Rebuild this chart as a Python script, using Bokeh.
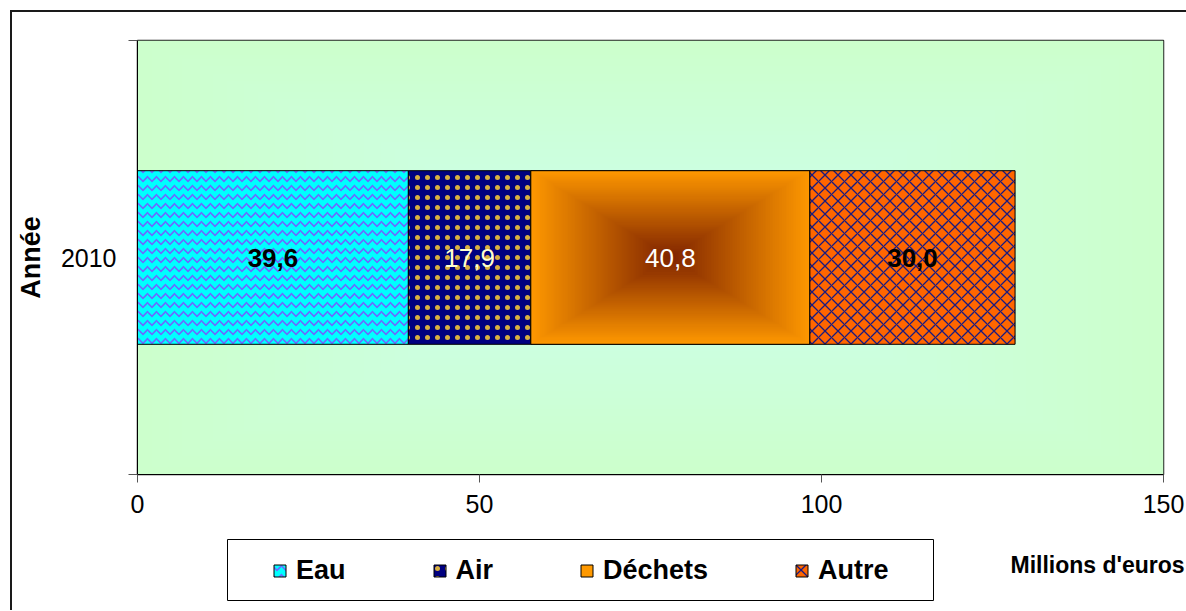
import numpy as np
from bokeh.plotting import figure
from bokeh.layouts import column
from bokeh.models import (ColumnDataSource, FixedTicker, Label, Legend, LegendItem,
                          BoxAnnotation, Range1d)
from bokeh.core.properties import value
from bokeh.embed import file_html
from bokeh.resources import INLINE

# ---- data -------------------------------------------------------------
years = ["2010"]
categories = ["Eau", "Air", "Déchets", "Autre"]
amounts = [39.6, 17.9, 40.8, 30.0]
x_ticks = [0, 50, 100, 150]
x_max = 150
axis_title_y = "Année"
axis_title_x = "Millions d'euros"

FONT = "Liberation Sans"
ORIGIN = 12          # page offset of the chart box (margin + border)
W = 1174             # inner width of the chart box
H_TOP, H_BOTTOM = 523, 75

# ---- main chart -------------------------------------------------------
p = figure(width=W, height=H_TOP, output_backend="svg", toolbar_location=None,
           x_range=Range1d(0, x_max), y_range=Range1d(0, len(years)),
           min_border_left=125, min_border_right=23, min_border_top=28,
           min_border_bottom=61, background_fill_color="#ccffcc",
           border_fill_color="white")
p.xgrid.visible = False
p.ygrid.visible = False
p.outline_line_color = "#222222"
p.outline_line_width = 1.5

# plot-area background: rectangular gradient radiating from the centre
ny, nx = 120, 300
gy, gx = np.mgrid[0:ny, 0:nx]
dx = np.abs((gx + 0.5) / nx - 0.5) * 2
dy = np.abs((gy + 0.5) / ny - 0.5) * 2
t = np.clip(np.maximum(dx, dy), 0, 1)
c_mid = np.array([204, 255, 238])
c_edge = np.array([204, 255, 204])
rgb = c_mid[None, None, :] * (1 - t[..., None]) + c_edge[None, None, :] * t[..., None]
img = np.empty((ny, nx), dtype=np.uint32)
view = img.view(dtype=np.uint8).reshape((ny, nx, 4))
view[..., :3] = rgb.astype(np.uint8)
view[..., 3] = 255
p.image_rgba(image=[img], x=0, y=0, dw=x_max, dh=len(years))

# stacked bar
y_pos = [i + 0.5 for i in range(len(years))]
bar_h = 0.4
starts = np.concatenate([[0], np.cumsum(amounts)[:-1]])
ends = starts + np.array(amounts)

styles = [
    dict(fill_color="#00ffff", hatch_pattern="horizontal_wave", hatch_color="#6a6aff",
         hatch_scale=9, hatch_weight=1.6),
    dict(fill_color="#000080", hatch_pattern="dot", hatch_color="#d8b040",
         hatch_scale=10, hatch_weight=0.8),
    dict(fill_color="#ff9900"),
    dict(fill_color="#ff6600", hatch_pattern="diagonal_cross", hatch_color="#1a1a80",
         hatch_scale=13, hatch_weight=1.3),
]

sources = []
for i, cat in enumerate(categories):
    src = ColumnDataSource(dict(y=y_pos, left=[starts[i]], right=[ends[i]]))
    sources.append(src)
    p.hbar(y="y", left="left", right="right", height=bar_h, source=src,
           line_color="black", line_width=1, **styles[i])
    if cat == "Déchets":
        # "from centre" fill: dark brown core fading to orange at the edges
        my, mx = 80, 160
        qy, qx = np.mgrid[0:my, 0:mx]
        ddx = np.abs((qx + 0.5) / mx - 0.5) * 2
        ddy = np.abs((qy + 0.5) / my - 0.5) * 2
        tt = np.clip(np.maximum(ddx, ddy), 0, 1)
        core = np.array([128, 36, 0])
        edge = np.array([255, 153, 0])
        cc = core[None, None, :] * (1 - tt[..., None]) + edge[None, None, :] * tt[..., None]
        im2 = np.empty((my, mx), dtype=np.uint32)
        v2 = im2.view(dtype=np.uint8).reshape((my, mx, 4))
        v2[..., :3] = cc.astype(np.uint8)
        v2[..., 3] = 255
        p.image_rgba(image=[im2], x=starts[i], y=y_pos[0] - bar_h / 2,
                     dw=amounts[i], dh=bar_h)
        p.hbar(y="y", left="left", right="right", height=bar_h, source=src,
               fill_color=None, line_color="black", line_width=1)

# value labels
label_colors = ["black", "#ffffcc", "white", "black"]
label_styles = ["bold", "normal", "normal", "bold"]
for i in range(len(categories)):
    p.text(x=[starts[i] + amounts[i] / 2], y=[y_pos[0]],
           text=[f"{amounts[i]:.1f}".replace(".", ",")],
           text_font=value(FONT), text_font_size="26px",
           text_font_style=label_styles[i], text_color=label_colors[i],
           text_align="center", text_baseline="middle")

# axes
xa = p.xaxis[0]
xa.ticker = FixedTicker(ticks=x_ticks, minor_ticks=[])
xa.major_tick_out = 8
xa.major_tick_in = 0
xa.major_tick_line_color = "#555555"
xa.axis_line_color = "black"
xa.major_label_text_font = FONT
xa.major_label_text_font_size = "25px"
xa.major_label_text_color = "black"
xa.major_label_standoff = 12

ya = p.yaxis[0]
ya.ticker = FixedTicker(ticks=y_pos, minor_ticks=[float(i) for i in range(len(years) + 1)])
ya.major_label_overrides = {y_pos[i]: years[i] for i in range(len(years))}
ya.major_tick_line_color = None
ya.major_tick_out = 8
ya.minor_tick_out = 9
ya.minor_tick_in = 0
ya.minor_tick_line_color = "#555555"
ya.axis_line_color = "black"
ya.major_label_text_font = FONT
ya.major_label_text_font_size = "25px"
ya.major_label_text_color = "black"
ya.major_label_standoff = 12
ya.axis_label = axis_title_y
ya.axis_label_text_font = FONT
ya.axis_label_text_font_size = "27px"
ya.axis_label_text_font_style = "bold"
ya.axis_label_text_color = "black"
ya.axis_label_standoff = 12

# ---- legend strip (pixel coordinates) ---------------------------------
q = figure(width=W, height=H_BOTTOM, output_backend="svg", toolbar_location=None,
           x_range=Range1d(0, W), y_range=Range1d(0, H_BOTTOM),
           x_axis_location=None, y_axis_location=None, min_border=0,
           background_fill_color="white", border_fill_color="white")
q.grid.visible = False
q.outline_line_color = None

# keep each figure's frame where its own borders put it
for fig in (p, q):
    if "frame_align" in fig.properties():
        fig.frame_align = False


def cx(x):
    return x - ORIGIN


def cy(y):
    return ORIGIN + H_TOP + H_BOTTOM - y


# legend keys: same series and styles, not drawn in the strip itself
key_renderers = []
for i, cat in enumerate(categories):
    r = q.hbar(y="y", left="left", right="right", height=bar_h, source=sources[i],
               line_color="black", line_width=1, visible=False, **styles[i])
    key_renderers.append(r)

legend = Legend(items=[LegendItem(label=c, renderers=[key_renderers[i]])
                       for i, c in enumerate(categories)],
                orientation="horizontal", location=(cx(272), cy(586)),
                glyph_width=15, glyph_height=15, label_standoff=9, spacing=86,
                padding=0, margin=0, inactive_fill_alpha=0,
                label_text_font=FONT, label_text_font_size="27px",
                label_text_font_style="bold", label_text_color="black",
                border_line_color=None, background_fill_alpha=0)
q.add_layout(legend, "center")

q.add_layout(BoxAnnotation(left=cx(227), right=cx(933), top=cy(539), bottom=cy(600),
                           fill_color=None, line_color="black", line_alpha=1,
                           line_width=1))

q.add_layout(Label(x=cx(1010), y=cy(564), text=axis_title_x, text_font=FONT,
                   text_font_size="23px", text_font_style="bold",
                   text_color="black", text_align="left",
                   text_baseline="middle"))

page = column(p, q, spacing=0,
              styles={"margin-left": "10px", "margin-top": "10px",
                      "border-left": "2px solid #1a1a1a",
                      "border-top": "2px solid #1a1a1a"})

open("out.html", "w").write(file_html(page, INLINE))
